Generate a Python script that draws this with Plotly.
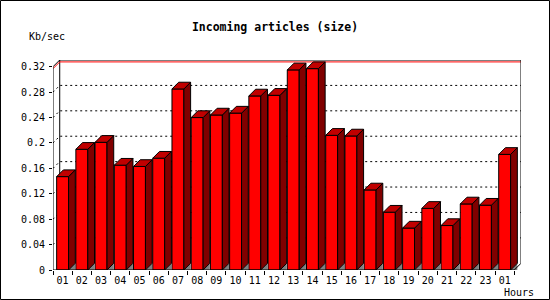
import plotly.graph_objects as go

# ---- data ----
hours = ["01", "02", "03", "04", "05", "06", "07", "08", "09", "10", "11", "12",
         "13", "14", "15", "16", "17", "18", "19", "20", "21", "22", "23", "01"]
values = [0.147, 0.190, 0.201, 0.165, 0.163, 0.176, 0.285, 0.240, 0.244, 0.247,
          0.274, 0.275, 0.315, 0.317, 0.212, 0.211, 0.126, 0.091, 0.066, 0.097,
          0.070, 0.104, 0.102, 0.182]
y_ticks = [0, 0.04, 0.08, 0.12, 0.16, 0.2, 0.24, 0.28, 0.32]
y_tick_labels = ["0", "0.04", "0.08", "0.12", "0.16", "0.2", "0.24", "0.28", "0.32"]
title = "Incoming articles (size)"
y_title = "Kb/sec"
x_title = "Hours"

# ---- style / geometry ----
FRONT = "#ff0000"
SIDE = "#800000"
TOP = "#c00000"
SHADOW = "#808080"
BAR_W = 0.62
DX = 0.35      # depth offset in x units
DY = 0.0106    # depth offset in y units
N = len(values)
Y_MAX_TICK = y_ticks[-1]
MONO = "DejaVu Sans Mono"

W, H = 550, 300
ML, MR, MT, MB = 53, 29, 60, 30
PW, PH = W - ML - MR, H - MT - MB

centers = [i + 0.5 for i in range(N)]

fig = go.Figure()

# back-wall dotted grid lines (behind bars)
gx, gy = [], []
for v in y_ticks[1:-1]:
    gx += [0, DX, N + DX, None]
    gy += [v, v + DY, v + DY, None]
fig.add_trace(go.Scatter(x=gx, y=gy, mode="lines", zorder=-1, hoverinfo="skip",
                         line=dict(color="black", width=1, dash="2px,3px")))

# back-left wall edge
fig.add_trace(go.Scatter(x=[DX, DX], y=[DY, Y_MAX_TICK + DY], mode="lines", zorder=-1,
                         hoverinfo="skip", line=dict(color="black", width=1)))

# red max line
vmax = max(values)
fig.add_trace(go.Scatter(x=[0, DX, N + DX], y=[vmax, vmax + DY, vmax + DY], mode="lines",
                         zorder=-1, hoverinfo="skip", line=dict(color="#ff0000", width=1)))

# front faces
fig.add_trace(go.Bar(x=centers, y=values, width=BAR_W, marker=dict(color=FRONT,
                     line=dict(color="black", width=1)), hoverinfo="skip"))

# shadow triangles, side faces, top faces
sx, sy, tx, ty, hx, hy = [], [], [], [], [], []
for c, v in zip(centers, values):
    L, R = c - BAR_W / 2, c + BAR_W / 2
    hx += [R, R + DX, R + DX, R, None]
    hy += [0, DY, 0, 0, None]
    sx += [R, R, R + DX, R + DX, R, None]
    sy += [0, v, v + DY, DY, 0, None]
    tx += [L, L + DX, R + DX, R, L, None]
    ty += [v, v + DY, v + DY, v, v, None]

fig.add_trace(go.Scatter(x=hx, y=hy, mode="lines", fill="toself", fillcolor=SHADOW,
                         line=dict(width=0, color=SHADOW), hoverinfo="skip"))
fig.add_trace(go.Scatter(x=sx, y=sy, mode="lines", fill="toself", fillcolor=SIDE,
                         line=dict(width=1, color="black"), hoverinfo="skip"))
fig.add_trace(go.Scatter(x=tx, y=ty, mode="lines", fill="toself", fillcolor=TOP,
                         line=dict(width=1, color="black"), hoverinfo="skip"))

# outline frame
fig.add_trace(go.Scatter(
    x=[0, 0, DX, N + DX, N + DX, N, 0],
    y=[0, Y_MAX_TICK, Y_MAX_TICK + DY, Y_MAX_TICK + DY, DY, 0, 0],
    mode="lines", hoverinfo="skip", line=dict(color="black", width=1)))

fig.update_layout(
    width=W, height=H,
    margin=dict(l=ML, r=MR, t=MT, b=MB, pad=0),
    paper_bgcolor="white", plot_bgcolor="white",
    showlegend=False,
    font=dict(family=MONO, size=10, color="black"),
    title=dict(text=title, x=0.5, xref="container", xanchor="center",
               y=1 - 26.7 / H, yref="container", yanchor="middle",
               font=dict(family=MONO, size=11.5, color="black", weight="bold")),
    xaxis=dict(range=[0, N + DX], tickmode="array", tickvals=centers, ticktext=hours,
               ticks="", showline=False, showgrid=False, zeroline=False, fixedrange=True,
               ticklabelstandoff=3,
               tickfont=dict(family=MONO, size=10, color="black"),
               minor=dict(ticks="outside", ticklen=4, tickcolor="black", tickwidth=1,
                          tick0=0, dtick=1, showgrid=False)),
    yaxis=dict(range=[0, Y_MAX_TICK + DY], tickmode="array", tickvals=y_ticks,
               ticktext=y_tick_labels, ticks="outside", ticklen=3, tickcolor="black",
               showline=False, showgrid=False, zeroline=False, fixedrange=True,
               ticklabelstandoff=2,
               tickfont=dict(family=MONO, size=10, color="black")),
    annotations=[
        dict(text=y_title, xref="paper", yref="paper", x=(47 - ML) / PW,
             y=(H - MB - 36.7) / PH, xanchor="center", yanchor="middle",
             showarrow=False, font=dict(family=MONO, size=10, color="black")),
        dict(text=x_title, xref="paper", yref="paper", x=(519 - ML) / PW,
             y=(H - MB - 292.7) / PH, xanchor="center", yanchor="middle",
             showarrow=False, font=dict(family=MONO, size=10, color="black")),
    ],
    shapes=[dict(type="rect", xref="paper", yref="paper",
                 x0=(0.5 - ML) / PW, x1=(W - 0.5 - ML) / PW,
                 y0=(H - MB - (H - 0.5)) / PH, y1=(H - MB - 0.5) / PH,
                 line=dict(color="black", width=1), fillcolor="rgba(0,0,0,0)")],
)

fig.write_html("out.html")
